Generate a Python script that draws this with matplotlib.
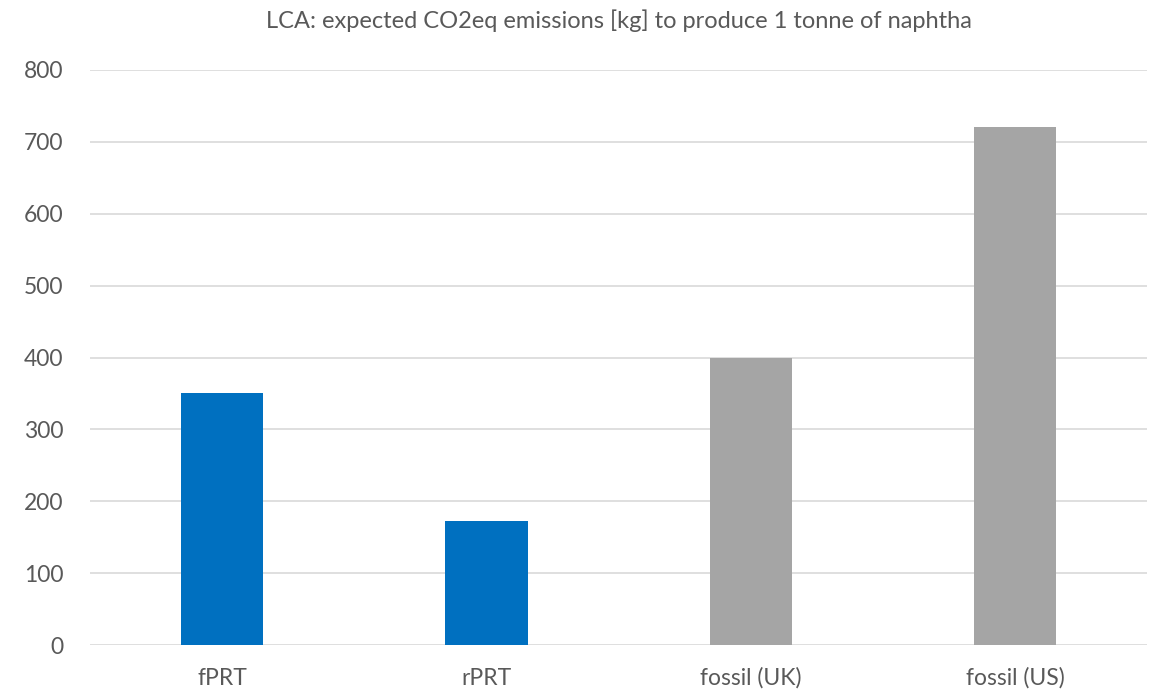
import matplotlib
matplotlib.use("Agg")
import matplotlib.pyplot as plt

categories = ["fPRT", "rPRT", "fossil (UK)", "fossil (US)"]
values = [350, 173, 400, 720]
colors = ["#0070C0", "#0070C0", "#A5A5A5", "#A5A5A5"]
yticks = [0, 100, 200, 300, 400, 500, 600, 700, 800]
title = "LCA: expected CO2eq emissions [kg] to produce 1 tonne of naphtha"

plt.rcParams['font.family'] = ['Lato', 'DejaVu Sans']
txt = "#595959"

fig = plt.figure(figsize=(11.52, 6.97), dpi=100)
ax = fig.add_axes([0.078, 0.0742, 0.918, 0.8257])
x = list(range(len(categories)))
ax.bar(x, values, width=0.312, color=colors, zorder=3)
ax.set_xlim(-0.5, len(categories) - 0.5)
ax.set_ylim(0, 800)
ax.set_yticks(yticks)
ax.set_yticklabels([str(v) for v in yticks])
ax.set_xticks(x)
ax.set_xticklabels(categories)
ax.grid(axis='y', color="#D9D9D9", linewidth=1.2, zorder=0)
for s in ax.spines.values():
    s.set_visible(False)
ax.tick_params(axis='both', length=0, colors=txt, labelsize=16.5)
ax.tick_params(axis='y', pad=19)
ax.tick_params(axis='x', pad=16)
fig.text(0.537, 0.970, title, ha='center', va='center', fontsize=17, color=txt)
fig.savefig("out.png", dpi=100)
